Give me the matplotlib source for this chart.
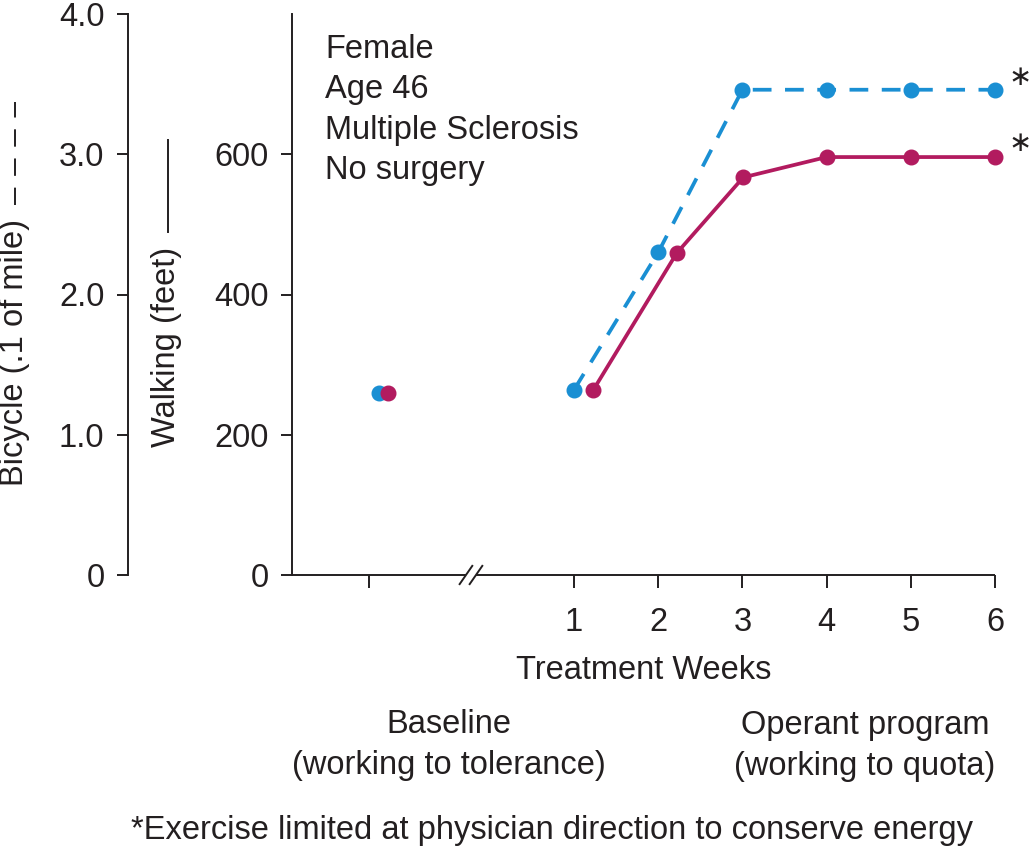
import matplotlib.pyplot as plt
from matplotlib.lines import Line2D

plt.rcParams['font.family'] = ['Liberation Sans', 'DejaVu Sans']

# baseline session, plotted left of the axis break
base_bike_x = -1.32
base_walk_x = -1.21
base_bike = 1.3
base_walk = 259

# treatment weeks (walking dots sit slightly right of the week in weeks 1-2)
weeks = [1, 2, 3, 4, 5, 6]
walk_x = [1.23, 2.22, 3.01, 4.0, 5.0, 6.0]
bike = [1.32, 2.3, 3.46, 3.46, 3.46, 3.46]
walk = [264, 459, 567, 596, 596, 596]

week_labels = ['1', '2', '3', '4', '5', '6']
baseline_tick = -1.435
walk_ticks = [0, 200, 400, 600]
bike_ticks = [0, 1, 2, 3, 4]
bike_tick_labels = ['0', '1.0', '2.0', '3.0', '4.0']

BLUE = '#1a8fd3'
MAG = '#b21b5f'
INK = '#231f20'
FS = 23.5

W, H = 1033, 848
fig = plt.figure(figsize=(W / 100, H / 100), dpi=100)
ax = fig.add_axes([292 / W, 1 - 575 / H, 703 / W, 561 / H])
ax_b = ax.twinx()
ax_b.set_zorder(ax.get_zorder() - 1)
ax.patch.set_visible(False)

xmin, xmax = -2.349, 6.0
ax.set_xlim(xmin, xmax)
ax.set_ylim(0, 800)
ax_b.set_ylim(0, 4)

# bicycle (dashed, blue) on the outer axis
ax_b.plot(weeks, bike, color=BLUE, lw=2.7, dashes=(5, 3.6), marker='o', ms=10.5,
          clip_on=False)
ax_b.plot([base_bike_x], [base_bike], 'o', color=BLUE, ms=10.5)

# walking (solid, magenta) on the inner axis
ax.plot(walk_x, walk, color=MAG, lw=2.7, marker='o', ms=10.5, clip_on=False)
ax.plot([base_walk_x], [base_walk], 'o', color=MAG, ms=10.5)

# asterisks after week 6
ax_b.annotate('\u2217', (weeks[-1], bike[-1]), xytext=(18, 9), textcoords='offset points',
              ha='center', va='center', fontsize=20, color=INK, family='DejaVu Sans')
ax.annotate('\u2217', (walk_x[-1], walk[-1]), xytext=(18, 10), textcoords='offset points',
            ha='center', va='center', fontsize=20, color=INK, family='DejaVu Sans')

# spines
for s in ['top', 'right', 'bottom']:
    ax.spines[s].set_visible(False)
    ax_b.spines[s].set_visible(False)
ax.spines['left'].set_color(INK)
ax.spines['left'].set_linewidth(1.4)
ax_b.spines['left'].set_visible(True)
ax_b.spines['left'].set_color(INK)
ax_b.spines['left'].set_linewidth(1.4)
ax_b.spines['left'].set_position(('axes', -(292 - 128) / 703))
ax_b.yaxis.set_ticks_position('left')

ax.set_yticks(walk_ticks)
ax.set_yticklabels([str(v) for v in walk_ticks])
ax_b.set_yticks(bike_ticks)
ax_b.set_yticklabels(bike_tick_labels)
ax.tick_params(axis='y', length=8, width=1.4, color=INK, labelsize=FS, pad=9,
               labelcolor=INK)
ax_b.tick_params(axis='y', length=8, width=1.4, color=INK, labelsize=FS, pad=9,
                 labelcolor=INK)

ax.set_xticks([baseline_tick] + weeks)
ax.set_xticklabels([''] + week_labels)
ax.tick_params(axis='x', length=9, width=1.4, color=INK, labelsize=FS, pad=14,
               labelcolor=INK)
ax.set_xlabel('Treatment Weeks', fontsize=FS, color=INK, labelpad=12)

# x axis line with a break
gap_l, gap_r = -0.283, -0.164
ax.plot([xmin, gap_l], [0, 0], color=INK, lw=1.4, clip_on=False, solid_capstyle='butt')
ax.plot([gap_r, xmax], [0, 0], color=INK, lw=1.4, clip_on=False, solid_capstyle='butt')
for xb in [gap_l, gap_r]:
    ax.plot([xb - 0.075, xb + 0.075], [-13, 13], color=INK, lw=1.4, clip_on=False)

# axis titles, with the line style key drawn after the words
fig.text(15 / W, 1 - 486 / H, 'Bicycle (.1 of mile)', rotation=90, ha='center',
         va='bottom', fontsize=FS, color=INK)
fig.add_artist(Line2D([15 / W, 15 / W], [1 - 205 / H, 1 - 102 / H], transform=fig.transFigure,
                      color=INK, lw=1.4, dashes=(12.5 / 1.4, 8.5 / 1.4)))
fig.text(167 / W, 1 - 447 / H, 'Walking (feet)', rotation=90, ha='center',
         va='bottom', fontsize=FS, color=INK)
fig.add_artist(Line2D([168 / W, 168 / W], [1 - 232 / H, 1 - 140 / H], transform=fig.transFigure,
                      color=INK, lw=1.4))

# patient description
fig.text(325 / W, 1 - 34 / H, 'Female\nAge 46\nMultiple Sclerosis\nNo surgery',
         ha='left', va='top', fontsize=FS, color=INK, linespacing=1.39)

fig.text(449 / W, 1 - 745 / H, 'Baseline\n(working to tolerance)', ha='center',
         va='center', fontsize=FS, color=INK, linespacing=1.43)
fig.text(865 / W, 1 - 746 / H, 'Operant program\n(working to quota)', ha='center',
         va='center', fontsize=FS, color=INK, linespacing=1.43)
fig.text(552 / W, 1 - 830 / H,
         '*Exercise limited at physician direction to conserve energy',
         ha='center', va='center', fontsize=FS, color=INK)

fig.savefig('out.png', dpi=100)
